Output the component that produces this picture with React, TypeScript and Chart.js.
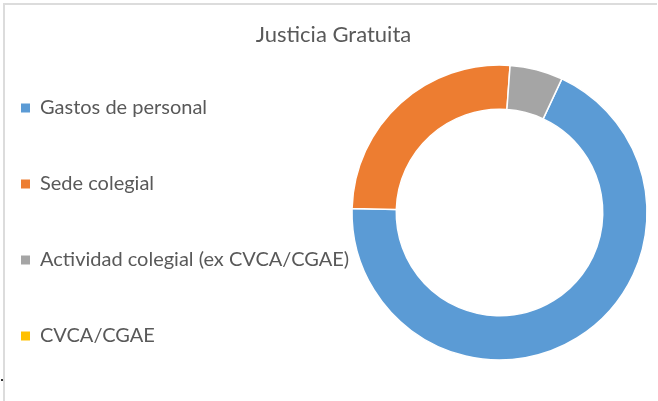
import { useEffect, useRef } from 'react';
import { Chart, registerables } from 'chart.js';

Chart.register(...registerables);

const chartTitle = 'Justicia Gratuita';
const categories = [
  'Gastos de personal',
  'Sede colegial',
  'Actividad colegial (ex CVCA/CGAE)',
  'CVCA/CGAE',
];
const shares = [68.5, 25.7, 5.8, 0];
const sliceColors = ['#5B9BD5', '#ED7D31', '#A5A5A5', '#FFC000'];

// widen the legend's clip box after layout so long labels are not cut
const legendClipFix = {
  id: 'legendClipFix',
  afterLayout(chart: any) {
    const lg = chart.legend;
    if (lg) {
      lg.right = lg.left + 460;
      lg.width = 460;
    }
  },
};

export default function App() {
  const ref = useRef<HTMLCanvasElement>(null);

  useEffect(() => {
    document.body.style.margin = '0';
    const chart = new Chart(ref.current!, {
      type: 'doughnut',
      data: {
        labels: categories,
        datasets: [
          {
            data: shares,
            backgroundColor: sliceColors,
            borderColor: '#ffffff',
            borderWidth: 1.5,
          },
        ],
      },
      options: {
        responsive: false,
        animation: false,
        events: [],
        rotation: 25,
        cutout: '70%',
        radius: 147.5,
        layout: { padding: { left: -35, right: -44, top: 0, bottom: -1 } },
        plugins: {
          title: {
            display: true,
            text: chartTitle,
            color: '#595959',
            font: { family: 'Lato', size: 22, weight: 'normal' },
            padding: { top: 21.3, bottom: -23.7 },
          },
          legend: {
            position: 'left',
            align: 'end',
            maxWidth: 376,
            labels: {
              boxWidth: 9,
              boxHeight: 9,
              padding: 56,
              color: '#595959',
              font: { family: 'Lato', size: 20 },
              generateLabels: () =>
                categories.map((text, i) => ({
                  text,
                  fillStyle: sliceColors[i],
                  strokeStyle: sliceColors[i],
                  lineWidth: 0,
                  hidden: false,
                  index: i,
                  fontColor: '#595959',
                })),
            },
          },
          tooltip: { enabled: false },
        },
      },
      plugins: [legendClipFix],
    } as any);
    return () => chart.destroy();
  }, []);

  return (
    <div style={{ position: 'relative', width: 658, height: 401, background: '#fff' }}>
      <canvas ref={ref} width={658} height={401} style={{ display: 'block' }} />
      <div style={{ position: 'absolute', left: 3, top: 3, width: 654, height: 1.5, background: '#dcdcdc' }} />
      <div style={{ position: 'absolute', left: 3, top: 3, width: 1.5, height: 398, background: '#dcdcdc' }} />
      <div style={{ position: 'absolute', left: 1, top: 379, width: 2, height: 2, background: '#333' }} />
    </div>
  );
}
